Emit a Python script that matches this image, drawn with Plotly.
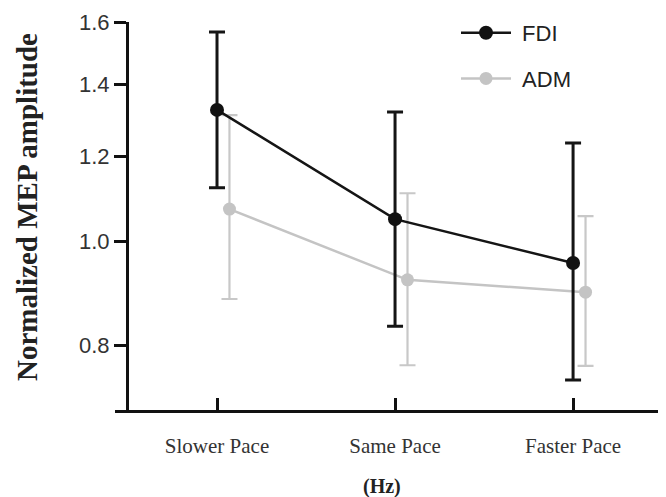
import numpy as np
import plotly.graph_objects as go

categories = ["Slower Pace", "Same Pace", "Faster Pace"]
fdi_mean = [1.325, 1.048, 0.954]
fdi_upper = [1.566, 1.319, 1.234]
fdi_lower = [1.121, 0.833, 0.742]
adm_mean = [1.071, 0.920, 0.896]
adm_upper = [1.310, 1.108, 1.055]
adm_lower = [0.883, 0.766, 0.765]
y_ticks = [0.8, 1.0, 1.2, 1.4, 1.6]
y_tick_labels = ["0.8", "1.0", "1.2", "1.4", "1.6"]

# page body has an 8px default margin: the figure is sized to fill the rest
OFF = 8
W, H = 666 - OFF, 497 - OFF
ADM_OFFSET = 0.07
x_fdi = list(range(len(categories)))
x_adm = [i + ADM_OFFSET for i in x_fdi]


def px_x(p):  # window pixel -> paper x
    return (p - OFF) / W


fig = go.Figure()
fig.add_trace(go.Scatter(
    x=x_adm, y=adm_mean, name="\u00a0ADM", mode="lines+markers",
    line=dict(color="#c4c4c4", width=2.5),
    marker=dict(color="#c4c4c4", size=13),
    error_y=dict(type="data", symmetric=False,
                 array=[u - m for u, m in zip(adm_upper, adm_mean)],
                 arrayminus=[m - l for m, l in zip(adm_mean, adm_lower)],
                 color="#c8c8c8", thickness=2.2, width=8),
    legendrank=2, legendgroup="b",
))
fig.add_trace(go.Scatter(
    x=x_fdi, y=fdi_mean, name="\u00a0FDI", mode="lines+markers",
    line=dict(color="#151515", width=2.5),
    marker=dict(color="#111111", size=14),
    error_y=dict(type="data", symmetric=False,
                 array=[u - m for u, m in zip(fdi_upper, fdi_mean)],
                 arrayminus=[m - l for m, l in zip(fdi_mean, fdi_lower)],
                 color="#151515", thickness=3, width=8),
    legendrank=1, legendgroup="a",
))

x0_px, ax_px = 115, 127
top_px, bot_px = 22, 410
ppd = (345 - 22) / (np.log10(1.6) - np.log10(0.8))
y_bottom = np.log10(0.8) - (bot_px - 345) / ppd
t_m = top_px - OFF
b_m = H - (bot_px - OFF)
plot_h = bot_px - top_px


def px_y(p):  # window pixel -> paper y
    return (bot_px - p) / plot_h


fig.update_layout(
    width=W, height=H,
    margin=dict(l=0, r=0, t=t_m, b=b_m),
    plot_bgcolor="white", paper_bgcolor="white",
    showlegend=True,
    legend=dict(x=px_x(456), y=px_y(12), xanchor="left", yanchor="top",
                font=dict(family="Liberation Sans, Arial", size=22, color="#222"),
                tracegroupgap=14, itemwidth=50, bgcolor="rgba(0,0,0,0)"),
    xaxis=dict(domain=[px_x(x0_px), 1], range=[-0.573, 2.522],
               tickvals=x_fdi, ticktext=categories,
               showline=True, linecolor="#111", linewidth=3,
               ticks="inside", ticklen=12, tickwidth=3, tickcolor="#111",
               ticklabelstandoff=15,
               tickfont=dict(family="Liberation Serif, Times New Roman", size=21, color="#333"),
               showgrid=False, zeroline=False),
    yaxis=dict(type="log", range=[y_bottom, np.log10(1.6)],
               anchor="free", position=px_x(ax_px),
               tickvals=y_ticks, ticktext=y_tick_labels,
               showline=True, linecolor="#111", linewidth=3,
               ticks="outside", ticklen=12, tickwidth=3, tickcolor="#111",
               tickfont=dict(family="Liberation Sans, Arial", size=22, color="#333"),
               showgrid=False, zeroline=False),
    annotations=[
        dict(text="<b>Normalized MEP amplitude</b>", textangle=-90,
             xref="paper", yref="paper", x=px_x(27), y=px_y(207),
             xanchor="center", yanchor="middle", showarrow=False,
             font=dict(family="Liberation Serif, Times New Roman", size=29, color="#222")),
        dict(text="<b>(Hz)</b>", xref="paper", yref="paper",
             x=px_x(382), y=px_y(486),
             xanchor="center", yanchor="middle", showarrow=False,
             font=dict(family="Liberation Serif, Times New Roman", size=20, color="#222")),
    ],
)

fig.write_html("out.html")
